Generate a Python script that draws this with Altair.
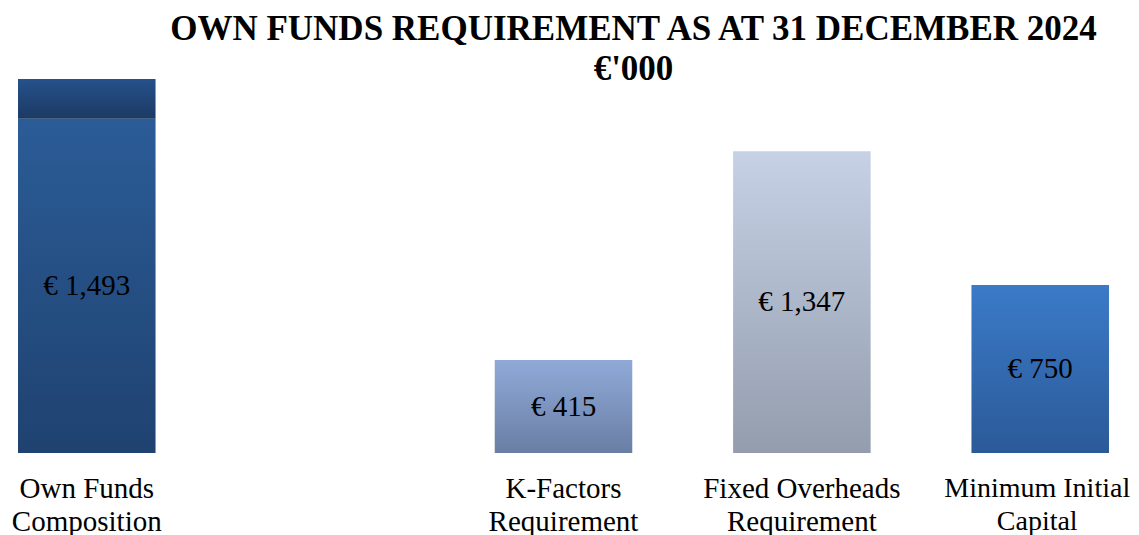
import altair as alt
import pandas as pd

# ---- data ----
categories = [
    "Own Funds|Composition",
    " ",
    "K-Factors|Requirement",
    "Fixed Overheads|Requirement",
    "Minimum Initial|Capital",
]
bar_categories = [
    "Own Funds|Composition",
    "K-Factors|Requirement",
    "Fixed Overheads|Requirement",
    "Minimum Initial|Capital",
]
bar_values = [1493, 415, 1347, 750]
bar_labels = ["€ 1,493", "€ 415", "€ 1,347", "€ 750"]
own_funds_top_segment = 177  # unlabelled upper segment of the Own Funds bar

title_lines = ["OWN FUNDS REQUIREMENT AS AT 31 DECEMBER 2024", "€'000"]

# gradient colours (top -> bottom)
gradients = {
    "own": ("#2b5c97", "#1f4270"),
    "own_top": ("#26518b", "#1c3a63"),
    "k": ("#8faad8", "#6a7ea5"),
    "fixed": ("#c6d1e6", "#939dad"),
    "min": ("#3b7ac8", "#2b5a98"),
}
keys = ["own", "k", "fixed", "min"]

rows = []
for cat, val, lab, key in zip(bar_categories, bar_values, bar_labels, keys):
    rows.append(dict(cat=cat, y0=0, y1=val, mid=val / 2, label=lab, key=key))
rows.append(dict(cat=bar_categories[0], y0=bar_values[0],
                 y1=bar_values[0] + own_funds_top_segment,
                 mid=None, label="", key="own_top"))
df = pd.DataFrame(rows)

FONT = "Liberation Serif"
last_test = "datum.value === '%s'" % categories[-1]

x_enc = alt.X(
    "cat:N",
    scale=alt.Scale(domain=categories, paddingInner=0.423, paddingOuter=0.042),
    axis=alt.Axis(
        title=None, domain=False, ticks=False, grid=False,
        labelAngle=0, labelFont=FONT, labelColor="black",
        labelFontSize={"condition": {"test": last_test, "value": 28}, "value": 29},
        labelOffset={"condition": {"test": last_test, "value": -3}, "value": 0},
        labelPadding=21, labelLineHeight=33, labelLimit=0,
        labelExpr="split(datum.label, '|')",
    ),
)
y_scale = alt.Scale(domain=[0, 1987], nice=False)

base = alt.Chart(df)
layers = []
for key, (c_top, c_bot) in gradients.items():
    grad = alt.Gradient(
        gradient="linear",
        stops=[alt.GradientStop(color=c_top, offset=0),
               alt.GradientStop(color=c_bot, offset=1)],
        x1=0, x2=0, y1=0, y2=1,
    )
    layers.append(
        base.transform_filter(alt.datum.key == key)
        .mark_bar(color=grad)
        .encode(
            x=x_enc,
            y=alt.Y("y0:Q", scale=y_scale, axis=None),
            y2="y1:Q",
        )
    )

text = (
    base.transform_filter(alt.datum.label != "")
    .mark_text(font=FONT, fontSize=29, color="black", baseline="middle")
    .encode(
        x=x_enc,
        y=alt.Y("mid:Q", scale=y_scale, axis=None),
        text="label:N",
    )
)

chart = (
    alt.layer(*layers, text)
    .properties(
        width=1111,
        height=445,
        title=alt.TitleParams(
            text=title_lines,
            font=FONT, fontSize=35, fontWeight="bold", color="black",
            anchor="middle", dx=70, offset=-79, lineHeight=40, baseline="top",
        ),
        autosize=alt.AutoSizeParams(type="none"),
        padding={"left": 0, "top": 0, "right": 12, "bottom": 90},
    )
    .configure_view(stroke=None)
)

chart.save("out.html", embed_options={"renderer": "svg", "actions": False})
